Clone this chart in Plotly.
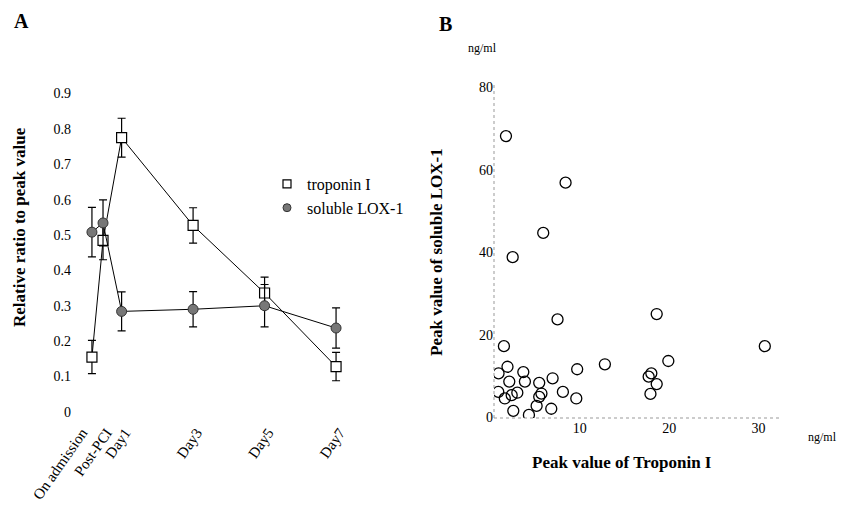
import plotly.graph_objects as go

# ---------------- Panel A data ----------------
time_labels = ["On admission", "Post-PCI", "Day1", "Day3", "Day5", "Day7"]
time_days = [0.17, 0.48, 1, 3, 5, 7]
troponin_ratio = [0.155, 0.485, 0.775, 0.527, 0.336, 0.128]
troponin_err = [0.047, 0.055, 0.055, 0.05, 0.045, 0.04]
lox_ratio = [0.508, 0.534, 0.284, 0.29, 0.3, 0.237]
lox_err = [0.07, 0.065, 0.055, 0.05, 0.06, 0.057]
yA_ticks = [0, 0.1, 0.2, 0.3, 0.4, 0.5, 0.6, 0.7, 0.8, 0.9]
yA_ticktext = ["0", "0.1", "0.2", "0.3", "0.4", "0.5", "0.6", "0.7", "0.8", "0.9"]

# ---------------- Panel B data ----------------
peak_troponin = [1.73, 8.4, 5.9, 2.48, 7.5, 18.6, 1.5, 30.7, 19.9, 12.8,
                 9.7, 1.9, 0.9, 3.67, 2.1, 3.85, 5.45, 6.95, 18.0, 17.7,
                 18.6, 17.9, 0.87, 1.6, 3.0, 2.37, 5.7, 5.45, 8.1, 9.6,
                 2.55, 4.3, 5.16, 6.8]
peak_lox = [68.2, 56.9, 44.7, 38.8, 23.7, 25.0, 17.2, 17.2, 13.6, 12.8,
            11.6, 12.2, 10.6, 10.9, 8.6, 8.6, 8.3, 9.4, 10.6, 9.8,
            8.0, 5.6, 6.1, 4.5, 5.9, 5.3, 5.7, 4.9, 6.1, 4.5,
            1.5, 0.5, 2.7, 2.0]
xB_ticks = [10, 20, 30]
yB_ticks = [0, 20, 40, 60, 80]

W, H = 849, 508
PAGE_MARGIN = 8          # default body margin of the html page
FW, FH = W - 2 * PAGE_MARGIN, H - 2 * PAGE_MARGIN
SERIF = "Liberation Serif"


def fx(px):
    return (px - PAGE_MARGIN) / FW


def fy(py):
    return 1 - (py - PAGE_MARGIN) / FH


def dom_x(a, b):
    return [fx(a), fx(b)]


def dom_y(top, bottom):
    return [fy(bottom), fy(top)]


# tick label positions: slightly right of the points, first label nudged
# left so that it does not collide with the "Post-PCI" label
label_pos = [d + 0.1 for d in time_days]
label_pos[0] = label_pos[0] - 0.38

fig = go.Figure()

# Panel A traces
fig.add_trace(go.Scatter(
    x=time_days, y=troponin_ratio, mode="lines+markers", showlegend=False,
    line=dict(color="black", width=1),
    marker=dict(symbol="square", size=10, color="white",
                line=dict(color="black", width=1.2)),
    error_y=dict(type="data", array=troponin_err, color="black",
                 thickness=1.2, width=4),
    xaxis="x", yaxis="y"))
fig.add_trace(go.Scatter(
    x=time_days, y=lox_ratio, mode="lines+markers", showlegend=False,
    line=dict(color="black", width=1),
    marker=dict(symbol="circle", size=10, color="#777777",
                line=dict(color="#333333", width=1)),
    error_y=dict(type="data", array=lox_err, color="black",
                 thickness=1.2, width=4),
    xaxis="x", yaxis="y"))

# legend-only entries (marker only, as in the reference)
fig.add_trace(go.Scatter(
    x=[None], y=[None], mode="markers", name="troponin I",
    marker=dict(symbol="square", size=8, color="white",
                line=dict(color="black", width=1.2)),
    xaxis="x", yaxis="y"))
fig.add_trace(go.Scatter(
    x=[None], y=[None], mode="markers", name="soluble LOX-1",
    marker=dict(symbol="circle", size=8, color="#777777",
                line=dict(color="#333333", width=1)),
    xaxis="x", yaxis="y"))

# Panel B scatter
fig.add_trace(go.Scatter(
    x=peak_troponin, y=peak_lox, mode="markers", showlegend=False,
    marker=dict(symbol="circle-open", size=11, color="black",
                line=dict(width=1.3)),
    xaxis="x2", yaxis="y2"))

tick_font = dict(family=SERIF, size=14, color="black")


def ann(text, x, y, size, angle=0):
    return dict(text=text, x=fx(x), y=fy(y), xref="paper", yref="paper",
                xanchor="center", yanchor="middle", textangle=angle,
                showarrow=False, font=dict(family=SERIF, size=size,
                                           color="black"))


fig.update_layout(
    width=FW, height=FH,
    margin=dict(l=0, r=0, t=0, b=0, autoexpand=False),
    paper_bgcolor="white", plot_bgcolor="white",
    font=dict(family=SERIF, color="black"),
    xaxis=dict(domain=dom_x(78, 350), range=[-0.22, 7.39],
               tickvals=label_pos, ticktext=time_labels, tickangle=-55,
               showgrid=False, zeroline=False, showline=False, ticks="",
               automargin=False,
               tickfont=dict(family=SERIF, size=15, color="black")),
    yaxis=dict(domain=dom_y(85, 420), range=[-0.023, 0.924],
               tickvals=yA_ticks, ticktext=yA_ticktext,
               showgrid=False, zeroline=False, showline=False, ticks="",
               automargin=False, ticklabelstandoff=6, tickfont=tick_font),
    xaxis2=dict(domain=dom_x(494, 780), range=[0.39, 32.4],
                tickvals=xB_ticks, showgrid=False, zeroline=False,
                showline=False, ticks="", tickfont=tick_font,
                automargin=False, anchor="y2"),
    yaxis2=dict(domain=dom_y(85, 418), range=[-0.24, 80.6],
                tickvals=yB_ticks, showgrid=False, zeroline=False,
                showline=False, ticks="", tickfont=tick_font,
                automargin=False, anchor="x2"),
    legend=dict(x=fx(267), y=fy(167), xanchor="left", yanchor="top",
                bgcolor="rgba(0,0,0,0)", font=dict(family=SERIF, size=16),
                tracegroupgap=0, itemwidth=30),
    shapes=[
        dict(type="line", xref="x2 domain", yref="y2 domain",
             x0=0, x1=0, y0=0, y1=1,
             line=dict(color="#999999", width=1, dash="dot")),
        dict(type="line", xref="x2 domain", yref="y2 domain",
             x0=0, x1=1, y0=0, y1=0,
             line=dict(color="#999999", width=1, dash="dot")),
    ],
    annotations=[
        ann("<b>A</b>", 21, 21, 20),
        ann("<b>B</b>", 445, 24, 20),
        ann("<b>Relative ratio to peak value</b>", 20, 227, 17, -90),
        ann("<b>Peak value of soluble LOX-1</b>", 437, 252, 17, -90),
        ann("<b>Peak value of Troponin I</b>", 622, 462, 17),
        ann("ng/ml", 482, 48, 12),
        ann("ng/ml", 822, 437, 12),
    ],
)

fig.write_html("out.html")
